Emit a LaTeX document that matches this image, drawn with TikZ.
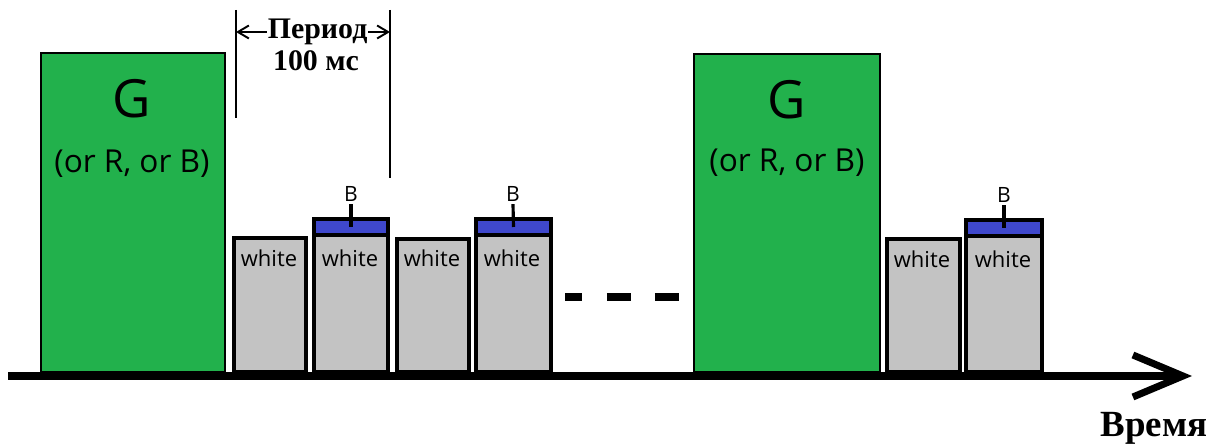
\documentclass[tikz,border=0pt]{standalone}
\usepackage{fontspec}
\setmainfont{Liberation Serif}
\setsansfont{Open Sans}
\usetikzlibrary{arrows.meta,fit}
\definecolor{boxgreen}{RGB}{34,177,76}
\definecolor{boxgrey}{RGB}{195,195,195}
\definecolor{boxblue}{RGB}{63,72,204}
\begin{document}
\begin{tikzpicture}[x=0.02cm,y=-0.02cm,
    green box/.style={draw,fill=boxgreen,line width=1.4pt,inner sep=0pt},
    grey box/.style={draw,fill=boxgrey,line width=2.2pt,inner sep=0pt},
    blue box/.style={draw,fill=boxblue,line width=2.2pt,inner sep=0pt},
    big text/.style={anchor=base,font=\sffamily\fontsize{30}{32}\selectfont},
    note text/.style={anchor=base,font=\sffamily\fontsize{18}{20}\selectfont},
    white text/.style={anchor=base,font=\sffamily\fontsize{12.5}{14}\selectfont},
    b text/.style={anchor=base,inner sep=1pt,font=\sffamily\fontsize{12}{13}\selectfont},
    rus text/.style={font=\bfseries\fontsize{17}{19}\selectfont},
    b tick/.style={line width=1.8pt},
    period line/.style={line width=1.1pt}]
    \useasboundingbox (0,0) rectangle (1215,448);

    % time axis
    \coordinate (a0) at (8,376);
    \coordinate (a1) at (1192,376);
    \draw[line width=4pt,-{Straight Barb[length=1cm,width=0.84cm]}] (a0) -- (a1);
    \node[anchor=base,font=\bfseries\fontsize{21}{23}\selectfont] (time) at (1154,437) {Время};

    % long pulses
    \node[green box,fit={(41,53) (225,372)}] (g1) {};
    \node[big text] (g1t) at (132,118) {G};
    \node[note text] (g1n) at (132,173) {(or R, or B)};
    \node[green box,fit={(694,54) (880,372)}] (g2) {};
    \node[big text] (g2t) at (787,119) {G};
    \node[note text] (g2n) at (787,172) {(or R, or B)};

    % short pulses
    \node[grey box,fit={(234,238) (306,372)}] (w1) {};
    \node[grey box,fit={(314,235) (388,372)}] (w2) {};
    \node[blue box,fit={(314,219) (388,235)}] (u2) {};
    \node[grey box,fit={(397,239) (469,372)}] (w3) {};
    \node[grey box,fit={(476,235) (551,372)}] (w4) {};
    \node[blue box,fit={(476,219) (551,235)}] (u4) {};
    \node[grey box,fit={(887,239) (960,372)}] (w5) {};
    \node[grey box,fit={(966,236) (1042,372)}] (w6) {};
    \node[blue box,fit={(966,220) (1042,236)}] (u6) {};

    \node[white text] (w1t) at (269,267) {white};
    \node[white text] (w2t) at (350,267) {white};
    \node[white text] (w3t) at (432,267) {white};
    \node[white text] (w4t) at (512,267) {white};
    \node[white text] (w5t) at (922,268) {white};
    \node[white text] (w6t) at (1003,268) {white};

    \node[b text] (b2) at (351,202) {B};
    \node[b text] (b4) at (513,202) {B};
    \node[b text] (b6) at (1004,203) {B};
    \path[b tick]
        (b2.south) edge (u2.center)
        (b4.south) edge (u4.center)
        (b6.south) edge (u6.center);

    % dots
    \coordinate (d0) at (565,297);
    \coordinate (d1) at (679,297);
    \draw[line width=4.5pt,dash pattern=on 0.34cm off 0.5cm on 0.48cm off 0.48cm on 0.48cm off 1cm] (d0) -- (d1);

    % period marker
    \coordinate (p1a) at (236,10);
    \coordinate (p1b) at (236,118);
    \coordinate (p2a) at (390,10);
    \coordinate (p2b) at (390,178);
    \coordinate (pl) at (236,32);
    \coordinate (pr) at (390,32);
    \path[period line]
        (p1a) edge (p1b)
        (p2a) edge (p2b);
    \draw[period line,{Straight Barb[length=0.22cm,width=0.26cm]}-{Straight Barb[length=0.22cm,width=0.26cm]}] (pl) -- (pr)
        node[pos=0.53,fill=white,inner sep=0.3pt,rus text] (per) {Период};
    \node[rus text,anchor=base] (per2) at (316,71) {100 мс};
\end{tikzpicture}
\end{document}
